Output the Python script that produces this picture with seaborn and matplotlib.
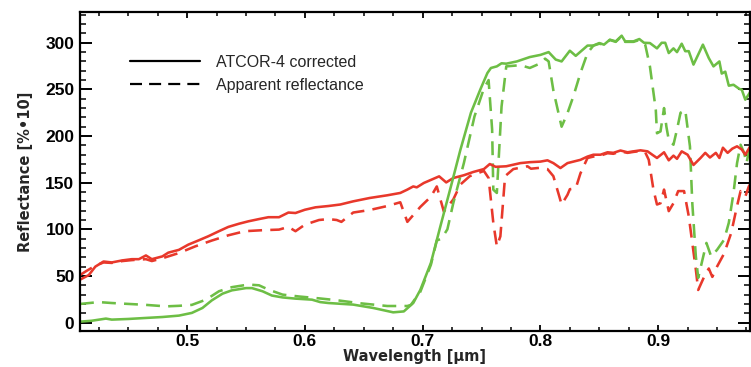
import matplotlib
matplotlib.use("Agg")
import matplotlib.pyplot as plt
from matplotlib.lines import Line2D
from matplotlib.ticker import MultipleLocator
import seaborn as sns
import pandas as pd

# Soil spectrum, ATCOR-4 corrected (wavelength in µm, reflectance in %*10)
soil_corr_wl = [0.409, 0.4165, 0.422, 0.429, 0.436, 0.445, 0.453, 0.459, 0.465, 0.470,
                0.479, 0.484, 0.493, 0.501, 0.510, 0.518, 0.527, 0.535, 0.544, 0.552,
                0.561, 0.569, 0.578, 0.586, 0.592, 0.600, 0.609, 0.620, 0.630, 0.641,
                0.655, 0.670, 0.681, 0.687, 0.692, 0.695, 0.701, 0.714, 0.720, 0.726,
                0.735, 0.743, 0.752, 0.757, 0.762, 0.771, 0.783, 0.791, 0.800, 0.806,
                0.811, 0.817, 0.823, 0.828, 0.834, 0.840, 0.845, 0.851, 0.857, 0.862,
                0.868, 0.874, 0.879, 0.885, 0.891, 0.895, 0.899, 0.905, 0.909, 0.913,
                0.916, 0.920, 0.925, 0.930, 0.936, 0.940, 0.944, 0.949, 0.952, 0.955,
                0.959, 0.963, 0.967, 0.971, 0.974, 0.979]
soil_corr = [46, 51, 60, 65.5, 64.5, 66.7, 68, 68, 72, 68,
             71, 75, 78, 83.6, 88.3, 92.6, 98, 102.6, 106, 108.6,
             111, 113, 113, 118, 117.5, 121, 123.6, 125, 126.6, 130,
             133.6, 136.5, 139, 142.6, 146, 145, 149.7, 156.8, 150.3, 155,
             158, 161.5, 164.6, 170, 167, 167.6, 171, 172, 172.6, 174,
             171, 165.7, 171, 172.6, 174.5, 178, 180, 180, 182.6, 182,
             184.5, 182.6, 183.6, 184.7, 183.6, 180, 176.5, 182.6, 174, 179,
             175.6, 183.6, 180, 169, 176.5, 182, 177, 182, 176.5, 187.5,
             182, 186.5, 189, 185.6, 180, 190.7]

# Soil spectrum, apparent (top-of-atmosphere) reflectance
soil_app_wl = [0.409, 0.414, 0.422, 0.429, 0.436, 0.445, 0.453, 0.465, 0.470, 0.479,
               0.493, 0.507, 0.521, 0.535, 0.549, 0.563, 0.578, 0.586, 0.592, 0.600,
               0.612, 0.620, 0.627, 0.631, 0.641, 0.655, 0.670, 0.681, 0.687, 0.698,
               0.707, 0.712, 0.718, 0.726, 0.732, 0.740, 0.752, 0.756, 0.760, 0.763,
               0.766, 0.770, 0.777, 0.789, 0.792, 0.800, 0.806, 0.811, 0.816, 0.818,
               0.823, 0.825, 0.830, 0.834, 0.840, 0.845, 0.851, 0.857, 0.862, 0.868,
               0.874, 0.879, 0.885, 0.889, 0.892, 0.896, 0.899, 0.902, 0.905, 0.909,
               0.913, 0.917, 0.922, 0.926, 0.929, 0.932, 0.934, 0.939, 0.943, 0.946,
               0.950, 0.956, 0.962, 0.967, 0.970, 0.974, 0.977, 0.979]
soil_app = [51, 55, 61, 64.5, 64, 66, 67, 68, 66, 69,
            74.6, 81.8, 88, 93.6, 98, 99, 99.7, 102.6, 98, 105,
            110, 111, 110, 108, 118, 120.7, 125, 129, 108, 124,
            135, 146, 119, 132, 148, 157, 162.6, 155, 107, 81.8,
            92.5, 157, 164.6, 167.6, 165, 166, 164.6, 157, 135.5, 126.6,
            137, 143, 144, 160, 176.5, 178, 179, 181.6, 181, 183.5,
            182, 183, 184, 182.6, 174.6, 142.6, 126.6, 128, 142.6, 119.5,
            128, 141, 141, 114, 85.4, 57, 35, 49, 58, 49,
            60, 74, 96, 125, 141, 135, 146, 150]

# Vegetation spectrum, ATCOR-4 corrected
veg_corr_wl = [0.409, 0.419, 0.431, 0.436, 0.450, 0.465, 0.479, 0.493, 0.504, 0.513,
               0.521, 0.530, 0.538, 0.550, 0.555, 0.564, 0.572, 0.581, 0.592, 0.606,
               0.613, 0.620, 0.641, 0.658, 0.675, 0.684, 0.692, 0.698, 0.707, 0.715,
               0.724, 0.732, 0.741, 0.749, 0.755, 0.758, 0.763, 0.767, 0.771, 0.780,
               0.791, 0.800, 0.807, 0.813, 0.818, 0.825, 0.830, 0.840, 0.845, 0.850,
               0.854, 0.859, 0.864, 0.869, 0.872, 0.879, 0.884, 0.888, 0.893, 0.899,
               0.903, 0.906, 0.909, 0.913, 0.916, 0.920, 0.923, 0.926, 0.930, 0.938,
               0.943, 0.947, 0.952, 0.954, 0.957, 0.960, 0.964, 0.969, 0.971, 0.974,
               0.979]
veg_corr = [1, 2, 4.3, 3.2, 3.9, 5, 6, 7.5, 10.4, 15.7,
            23.9, 31, 34.6, 37, 37, 33.6, 29, 27, 25.7, 24.6,
            22, 21, 19.3, 15.7, 11, 12, 21, 35, 64, 103,
            146, 185, 225, 250, 267.6, 273, 274.7, 278, 277.6, 280,
            284.7, 287, 290, 282, 280, 291.5, 286, 297, 297, 299.7,
            298, 303.3, 301.5, 307.6, 301.5, 301.5, 304, 300, 299.7, 294,
            300, 300, 289, 294, 290, 299, 291, 291, 276.6, 298,
            283.6, 274.7, 280, 267, 269, 254, 255, 250.5, 249.8, 239,
            248.8]

# Vegetation spectrum, apparent reflectance
veg_app_wl = [0.409, 0.425, 0.436, 0.465, 0.482, 0.493, 0.504, 0.516, 0.527, 0.538,
              0.552, 0.561, 0.569, 0.581, 0.595, 0.612, 0.627, 0.647, 0.670, 0.687,
              0.690, 0.698, 0.707, 0.712, 0.716, 0.721, 0.726, 0.735, 0.744, 0.752,
              0.756, 0.759, 0.760, 0.763, 0.767, 0.771, 0.783, 0.791, 0.800, 0.804,
              0.807, 0.811, 0.816, 0.818, 0.823, 0.828, 0.834, 0.840, 0.845, 0.850,
              0.854, 0.859, 0.864, 0.869, 0.872, 0.879, 0.884, 0.889, 0.893, 0.898,
              0.899, 0.902, 0.905, 0.907, 0.909, 0.913, 0.916, 0.919, 0.923, 0.927,
              0.929, 0.932, 0.934, 0.937, 0.941, 0.945, 0.950, 0.956, 0.960, 0.964,
              0.967, 0.970, 0.973, 0.975, 0.978]
veg_app = [20, 22, 21, 19, 17.4, 18, 19, 24.6, 33.6, 38,
           40.8, 40, 35.4, 30, 28, 26, 24, 20.7, 17.8, 17.8,
           19, 33, 62, 88, 90, 100, 128, 171, 221, 251,
           260, 207, 142.5, 139, 231.6, 274.7, 276, 273, 278, 283,
           280, 249, 221, 210, 224.6, 242.6, 267.6, 289, 297, 299,
           298, 303, 301, 307, 301, 301, 303, 298, 274.7, 228,
           203, 205, 230, 210, 196, 190.7, 207, 225, 228, 189,
           128, 71, 48, 64, 85.4, 71, 78, 88.8, 107, 139,
           171, 190.7, 182, 171, 189]

x_ticks = [0.5, 0.6, 0.7, 0.8, 0.9]
y_ticks = [0, 50, 100, 150, 200, 250, 300]
legend_labels = ["ATCOR-4 corrected", "Apparent reflectance"]

RED = "#E8382B"
GREEN = "#6DBE45"
DASH = (0, (5.4, 3.2))

sns.set_style("ticks")
plt.rcParams["font.family"] = ["Liberation Sans", "DejaVu Sans"]

fig = plt.figure(figsize=(7.51, 3.67), dpi=100)
ax = fig.add_axes([80 / 751, 36 / 367, 670 / 751, 319 / 367])

series = [
    (soil_app_wl, soil_app, RED, DASH),
    (veg_app_wl, veg_app, GREEN, DASH),
    (soil_corr_wl, soil_corr, RED, "-"),
    (veg_corr_wl, veg_corr, GREEN, "-"),
]
for wl, val, col, ls in series:
    df = pd.DataFrame({"wl": wl, "refl": val})
    sns.lineplot(data=df, x="wl", y="refl", ax=ax, color=col, linestyle=ls,
                 lw=1.85, estimator=None, sort=False)

ax.set_xlim(0.409, 0.978)
ax.set_ylim(-9, 333)
ax.set_xticks(x_ticks)
ax.set_yticks(y_ticks)
ax.set_xticklabels([f"{t:.1f}" for t in x_ticks])
ax.set_yticklabels([str(t) for t in y_ticks])
ax.xaxis.set_minor_locator(MultipleLocator(0.025))
ax.yaxis.set_minor_locator(MultipleLocator(10))

for s in ax.spines.values():
    s.set_visible(True)
    s.set_linewidth(1.6)
    s.set_color("black")

ax.tick_params(axis="both", which="both", direction="in", top=True, right=True,
               colors="black")
ax.tick_params(axis="x", which="major", length=4.5, width=1.3, pad=2)
ax.tick_params(axis="x", which="minor", length=3, width=1.1)
ax.tick_params(axis="y", which="major", length=8.6, width=1.4, pad=4)
ax.tick_params(axis="y", which="minor", length=4.3, width=1.1)
for lab in ax.get_xticklabels() + ax.get_yticklabels():
    lab.set_fontweight("bold")
    lab.set_fontsize(12.5)

ax.set_xlabel("Wavelength [μm]", fontsize=10.5, fontweight="bold",
              family="DejaVu Sans", labelpad=0)
ax.set_ylabel("Reflectance [%•10]", fontsize=10.5, fontweight="bold",
              family="DejaVu Sans", labelpad=9)

handles = [Line2D([], [], color="black", lw=1.6, linestyle="-"),
           Line2D([], [], color="black", lw=1.6, linestyle=DASH)]
ax.legend(handles, legend_labels, loc="upper left", bbox_to_anchor=(0.0746, 0.866),
          frameon=False, fontsize=11.5, handlelength=4.4, handletextpad=1.0,
          labelspacing=0.5, borderpad=0, borderaxespad=0)

fig.savefig("out.png", dpi=100)
